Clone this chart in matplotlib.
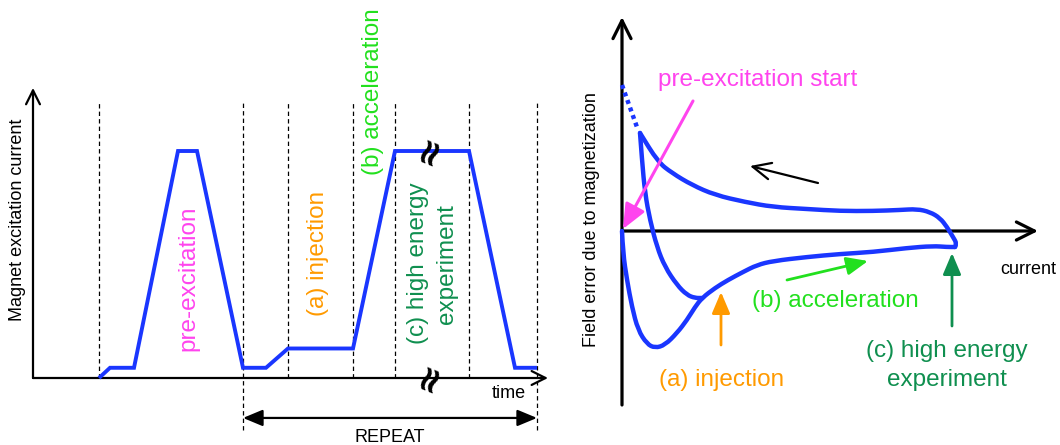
import matplotlib
matplotlib.use("Agg")
import matplotlib.pyplot as plt
from matplotlib.path import Path
from matplotlib.patches import PathPatch

plt.rcParams['font.family'] = ['Liberation Sans', 'DejaVu Sans']

# ---- left panel: magnet excitation current over one operating cycle ----
cycle_time = [6.6, 7.7, 10.1, 14.5, 16.4, 21.0, 23.3, 25.5, 32.0, 36.2, 43.6, 48.2, 50.4]
cycle_current = [0.0, 0.045, 0.045, 1.0, 1.0, 0.045, 0.045, 0.13, 0.13, 1.0, 1.0, 0.045, 0.045]
phase_bounds = [6.6, 21.0, 25.5, 32.0, 36.2, 43.6, 50.4]
repeat_span = [21.0, 50.4]

# ---- right panel: field error versus current (hysteresis loop) ----
# rising branch: from the pre-excitation start up to the flat top
rise_current = [0.00, 0.01, 0.05, 0.10, 0.16, 0.25, 0.33, 0.43, 0.55, 0.65, 0.73, 0.80,
                0.93, 1.06, 1.21, 1.35, 1.51, 1.85, 2.18, 2.51, 2.85, 3.11, 3.25, 3.33]
rise_error = [0.00, -0.22, -0.49, -0.76, -0.99, -1.13, -1.17, -1.14, -1.02, -0.89, -0.76, -0.67,
              -0.57, -0.49, -0.41, -0.34, -0.30, -0.26, -0.23, -0.21, -0.17, -0.15, -0.16, -0.16]
# falling branch: from the flat top back down to the low end
fall_current = [3.33, 3.35, 3.31, 3.25, 3.18, 3.08, 2.95, 2.78, 2.51, 2.18, 1.85, 1.51,
                1.23, 0.93, 0.70, 0.50, 0.36, 0.18]
fall_error = [-0.16, -0.13, -0.06, 0.04, 0.13, 0.19, 0.22, 0.21, 0.20, 0.20, 0.22, 0.24,
              0.29, 0.36, 0.46, 0.58, 0.69, 0.98]
# return to injection level
inject_current = [0.18, 0.20, 0.23, 0.28, 0.35, 0.43, 0.55, 0.65, 0.73, 0.80]
inject_error = [0.98, 0.71, 0.38, 0.11, -0.16, -0.36, -0.54, -0.64, -0.67, -0.67]
# initial magnetisation before the first cycle
virgin_current = [0.00, 0.16]
virgin_error = [1.46, 1.01]

BLUE = '#1a36ff'
MAGENTA = '#ff44ee'
ORANGE = '#ff9a00'
GREEN = '#22e01e'
DARK_GREEN = '#0f8f4f'

LABEL_FS = 17.5
AXIS_FS = 13.0
SMALL_FS = 13.0

W, H = 1060, 445
fig = plt.figure(figsize=(W / 100, H / 100), dpi=100)

# each panel gets a full-figure axes with its own data scale
L_X0, L_Y0, L_SX, L_SY = 33, 378, 10.0, 227.0
axL = fig.add_axes([0, 0, 1, 1])
axL.set_xlim(-L_X0 / L_SX, (W - L_X0) / L_SX)
axL.set_ylim((L_Y0 - H) / L_SY, L_Y0 / L_SY)
axL.axis('off')

R_X0, R_Y0, R_S = 622, 231, 100.0
axR = fig.add_axes([0, 0, 1, 1])
axR.patch.set_alpha(0)
axR.set_xlim(-R_X0 / R_S, (W - R_X0) / R_S)
axR.set_ylim((R_Y0 - H) / R_S, R_Y0 / R_S)
axR.axis('off')


def arrow(ax, start, end, style, color='black', lw=1.5, **kw):
    ax.annotate('', xy=end, xytext=start,
                arrowprops=dict(arrowstyle=style, color=color, lw=lw,
                                shrinkA=0, shrinkB=0, **kw),
                annotation_clip=False)


def smooth_branch(ax, xs, ys, **kw):
    """Draw a branch as a chain of quadratic Bezier pieces through its points."""
    pts = list(zip(xs, ys))
    verts = [pts[0]]
    codes = [Path.MOVETO]
    for i in range(1, len(pts) - 1):
        mid = ((pts[i][0] + pts[i + 1][0]) / 2, (pts[i][1] + pts[i + 1][1]) / 2)
        verts += [pts[i], mid]
        codes += [Path.CURVE3, Path.CURVE3]
    verts.append(pts[-1])
    codes.append(Path.LINETO)
    ax.add_patch(PathPatch(Path(verts, codes), fill=False, **kw))


# left axes lines
arrow(axL, (0, 0), (0, 1.278), '->,head_length=1.0,head_width=0.5', lw=1.6)
arrow(axL, (0, 0), (51.5, 0), '->,head_length=1.0,head_width=0.5', lw=1.6)

# phase boundaries
for t in phase_bounds:
    bottom = -0.23 if t in repeat_span else 0.0
    axL.plot([t, t], [bottom, 1.21], ls=(0, (3.5, 2.5)), color='black', lw=0.9)

axL.plot(cycle_time, cycle_current, color=BLUE, lw=2.8, solid_joinstyle='miter',
         solid_capstyle='butt', zorder=3)

# time-axis break marks
for yb in (1.0, 0.0):
    axL.text(39.7, yb, '≈', rotation=68, fontsize=26, fontweight='bold',
             ha='center', va='center', family='DejaVu Sans', zorder=5)

arrow(axL, (repeat_span[0], -0.176), (repeat_span[1], -0.176),
      '<|-|>,head_length=1.2,head_width=0.5', lw=1.6)
axL.text(35.7, -0.262, 'REPEAT', fontsize=SMALL_FS, ha='center', va='center')
axL.text(49.3, -0.07, 'time', fontsize=SMALL_FS, ha='right', va='center')

axL.text(-1.5, 0.696, 'Magnet excitation current', rotation=90, fontsize=AXIS_FS,
         ha='center', va='center')
axL.text(15.5, 0.44, 'pre-excitation', rotation=90, fontsize=LABEL_FS, color=MAGENTA,
         ha='center', va='center')
axL.text(28.5, 0.55, '(a) injection', rotation=90, fontsize=LABEL_FS, color=ORANGE,
         ha='center', va='center')
axL.text(34.0, 1.26, '(b) acceleration', rotation=90, fontsize=LABEL_FS, color=GREEN,
         ha='center', va='center')
axL.text(38.5, 0.507, '(c) high energy', rotation=90, fontsize=LABEL_FS, color=DARK_GREEN,
         ha='center', va='center')
axL.text(41.4, 0.50, 'experiment', rotation=90, fontsize=LABEL_FS, color=DARK_GREEN,
         ha='center', va='center')

# right axes lines
arrow(axR, (0, -1.74), (0, 2.14), '->,head_length=1.3,head_width=0.65', lw=2.3)
arrow(axR, (0, 0), (4.16, 0), '->,head_length=1.3,head_width=0.65', lw=2.3)

loop_style = dict(edgecolor=BLUE, lw=3.2, joinstyle='round', capstyle='round', zorder=3)
smooth_branch(axR, rise_current, rise_error, **loop_style)
smooth_branch(axR, fall_current, fall_error, **loop_style)
smooth_branch(axR, inject_current, inject_error, **loop_style)
axR.plot(virgin_current, virgin_error, color=BLUE, lw=3.2, ls=(0, (0.9, 0.9)),
         dash_capstyle='butt', zorder=3)

arrow(axR, (0.71, 1.30), (0.01, 0.02), '-|>,head_length=1.5,head_width=0.65',
      color=MAGENTA, lw=2.2)
axR.text(0.36, 1.51, 'pre-excitation start', fontsize=LABEL_FS, color=MAGENTA,
         ha='left', va='center')

arrow(axR, (1.96, 0.48), (1.28, 0.65), '->,head_length=1.3,head_width=0.6', lw=1.6)

arrow(axR, (0.99, -1.14), (0.99, -0.61), '-|>,head_length=1.3,head_width=0.55',
      color=ORANGE, lw=2.0)
axR.text(1.00, -1.49, '(a) injection', fontsize=LABEL_FS, color=ORANGE,
         ha='center', va='center')

arrow(axR, (1.65, -0.49), (2.46, -0.30), '-|>,head_length=1.3,head_width=0.55',
      color=GREEN, lw=2.0)
axR.text(1.30, -0.70, '(b) acceleration', fontsize=LABEL_FS, color=GREEN,
         ha='left', va='center')

arrow(axR, (3.30, -0.95), (3.30, -0.22), '-|>,head_length=1.3,head_width=0.55',
      color=DARK_GREEN, lw=2.0)
axR.text(3.25, -1.20, '(c) high energy', fontsize=LABEL_FS, color=DARK_GREEN,
         ha='center', va='center')
axR.text(3.25, -1.49, 'experiment', fontsize=LABEL_FS, color=DARK_GREEN,
         ha='center', va='center')

axR.text(3.78, -0.39, 'current', fontsize=SMALL_FS, ha='left', va='center')
axR.text(-0.30, 0.11, 'Field error due to magnetization', rotation=90, fontsize=AXIS_FS,
         ha='center', va='center')

fig.savefig('out.png', dpi=100)
